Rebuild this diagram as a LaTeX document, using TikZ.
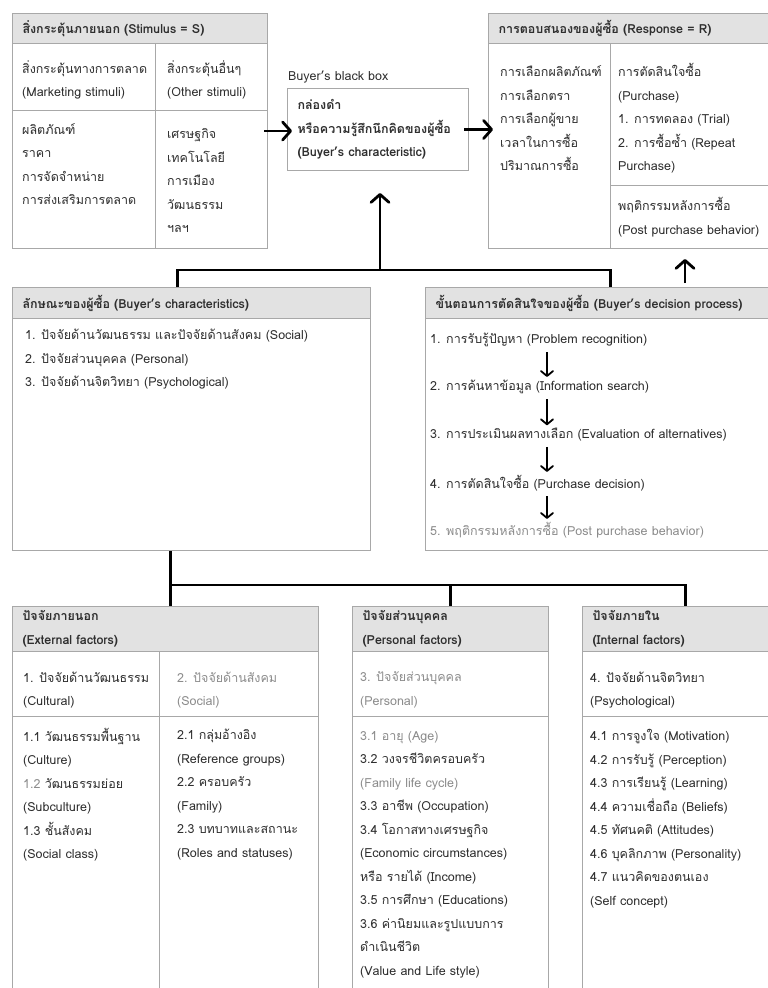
\documentclass[tikz,border=0pt]{standalone}
\usepackage{fontspec}
\setmainfont{Loma}[Script=Thai]
\usetikzlibrary{arrows.meta,positioning}
\definecolor{rule}{HTML}{A8A8A8}
\definecolor{shade}{HTML}{E2E2E2}
\definecolor{ink}{HTML}{2E2E2E}
\definecolor{faint}{HTML}{8C8C8C}
\newcommand{\bodyfont}{\fontsize{12.5}{23.5}\selectfont}

\begin{document}
\begin{tikzpicture}[x=1pt,y=-1pt,
  frame/.style={draw=rule,line width=1pt,fill=white,anchor=north west,inner sep=0pt},
  headrow/.style={frame,fill=shade,align=left,inner xsep=10pt,font=\bodyfont\bfseries,text=ink},
  txt/.style={anchor=west,inner sep=0pt,align=left,font=\bodyfont,text=ink},
  link/.style={line width=2.8pt},
  flow/.style={line width=2.8pt,-{Straight Barb[length=8pt,width=18pt,line width=2.8pt,round]}},
  stepflow/.style={line width=1.8pt,-{Straight Barb[length=5pt,width=12pt,line width=1.8pt,round]},shorten <=5pt,shorten >=3pt},
  grid/.style={draw=rule,line width=1pt}]
\useasboundingbox (0,0) rectangle (768,988);
\clip (0,0) rectangle (768,988);

% stimulus
\node[frame,minimum width=255pt,minimum height=235pt] (stim) at (12,13) {};
\node[headrow,minimum height=30pt,text width=235pt] (stimhd) at (stim.north west) {สิ่งกระตุ้นภายนอก (Stimulus = S)};
\draw[grid] (155,43) -- (155,248);
\draw[grid] (12,110) -- (267,110);
\node[txt] (mkt) at (22,80) {สิ่งกระตุ้นทางการตลาด\\(Marketing stimuli)};
\node[txt] (oth) at (167,80) {สิ่งกระตุ้นอื่นๆ\\(Other stimuli)};
\node[txt] (mktlist) at (22,164) {ผลิตภัณฑ์\\ราคา\\การจัดจำหน่าย\\การส่งเสริมการตลาด};
\node[txt] (othlist) at (167,181) {เศรษฐกิจ\\เทคโนโลยี\\การเมือง\\วัฒนธรรม\\ฯลฯ};

% black box
\node[txt] (bblabel) at (288,77) {Buyer's black box};
\node[frame,minimum width=181pt,minimum height=82pt,text width=161pt,inner xsep=10pt,align=left,font=\bodyfont\bfseries,text=ink] (bb) at (287,88) {กล่องดำ\\หรือความรู้สึกนึกคิดของผู้ซื้อ\\(Buyer's characteristic)};

% response
\node[frame,minimum width=310pt,minimum height=235pt] (resp) at (488,13) {};
\node[headrow,minimum height=30pt,text width=290pt] (resphd) at (resp.north west) {การตอบสนองของผู้ซื้อ (Response = R)};
\draw[grid] (610,43) -- (610,248);
\draw[grid] (610,185) -- (798,185);
\node[txt] (choice) at (500,118.5) {การเลือกผลิตภัณฑ์\\การเลือกตรา\\การเลือกผู้ขาย\\เวลาในการซื้อ\\ปริมาณการซื้อ};
\node[txt] (buy) at (618,118.5) {การตัดสินใจซื้อ\\(Purchase)\\1. การทดลอง (Trial)\\2. การซื้อซ้ำ (Repeat\\Purchase)};
\node[txt] (post) at (618,217) {พฤติกรรมหลังการซื้อ\\(Post purchase behavior)};

\draw[flow,shorten <=-4pt,shorten >=-5pt] (stim.east) -- (bb.west |- stim.east);
\draw[flow,shorten <=-5pt,shorten >=-5pt] (bb.east) -- (resp.west |- bb.east);

% buyer characteristics
\node[frame,minimum width=358pt,minimum height=263pt] (bc) at (12,287) {};
\node[headrow,minimum height=31pt,text width=338pt] (bchd) at (bc.north west) {ลักษณะของผู้ซื้อ (Buyer's characteristics)};
\node[txt] (bclist) at (25,359.5) {1. ปัจจัยด้านวัฒนธรรม และปัจจัยด้านสังคม (Social)\\2. ปัจจัยส่วนบุคคล (Personal)\\3. ปัจจัยด้านจิตวิทยา (Psychological)};

% decision process
\node[frame,minimum width=370pt,minimum height=263pt] (dp) at (425,287) {};
\node[headrow,minimum height=31pt,text width=350pt] (dphd) at (dp.north west) {ขั้นตอนการตัดสินใจของผู้ซื้อ (Buyer's decision process)};
\node[txt] (s1) at (430,340) {1. การรับรู้ปัญหา (Problem recognition)};
\node[txt] (s2) at (430,387) {2. การค้นหาข้อมูล (Information search)};
\node[txt] (s3) at (430,435) {3. การประเมินผลทางเลือก (Evaluation of alternatives)};
\node[txt] (s4) at (430,483) {4. การตัดสินใจซื้อ (Purchase decision)};
\node[txt,text=faint] (s5) at (430,530) {5. พฤติกรรมหลังการซื้อ (Post purchase behavior)};
\foreach \a/\b in {s1/s2,s2/s3,s3/s4,s4/s5}
  \draw[stepflow] ([xshift=117pt]\a.south west) -- ([xshift=117pt]\b.north west);

% links to the black box and the response
\coordinate (top) at (380,270);
\draw[link] ([xshift=-14pt]bc.north) |- (top) -| (dp.north);
\draw[flow,shorten >=22pt] (top) -- (top |- bb.south);
\coordinate (rbase) at (685,283);
\draw[flow,shorten >=10pt] (rbase) -- (rbase |- resp.south);

% external factors
\node[frame,minimum width=306pt,minimum height=400pt] (ext) at (12,606) {};
\node[headrow,minimum height=45pt,text width=286pt] (exthd) at (ext.north west) {ปัจจัยภายนอก\\(External factors)};
\draw[grid] (12,716) -- (318,716);
\draw[grid] (159,651) -- (159,988);
\node[txt] (cult) at (23,690) {1. ปัจจัยด้านวัฒนธรรม\\(Cultural)};
\node[txt,text=faint] (soc) at (177,690) {2. ปัจจัยด้านสังคม\\(Social)};
\node[txt] (cultlist) at (23,794.5) {1.1 วัฒนธรรมพื้นฐาน\\(Culture)\\{\color{faint}1.2} วัฒนธรรมย่อย\\(Subculture)\\1.3 ชั้นสังคม\\(Social class)};
\node[txt] (soclist) at (177,794.5) {2.1 กลุ่มอ้างอิง\\(Reference groups)\\2.2 ครอบครัว\\(Family)\\2.3 บทบาทและสถานะ\\(Roles and statuses)};

% personal factors
\node[frame,minimum width=196pt,minimum height=400pt] (pers) at (352,606) {};
\node[headrow,minimum height=45pt,text width=176pt] (pershd) at (pers.north west) {ปัจจัยส่วนบุคคล\\(Personal factors)};
\draw[grid] (352,716) -- (548,716);
\node[txt,text=faint] (persrow) at (360,690) {3. ปัจจัยส่วนบุคคล\\(Personal)};
\node[txt] (perslist) at (360,854.5) {{\color{faint}3.1 อายุ (Age)}\\3.2 วงจรชีวิตครอบครัว\\{\color{faint}(Family life cycle)}\\3.3 อาชีพ (Occupation)\\3.4 โอกาสทางเศรษฐกิจ\\(Economic circumstances)\\หรือ รายได้ (Income)\\3.5 การศึกษา (Educations)\\3.6 ค่านิยมและรูปแบบการ\\ดำเนินชีวิต\\(Value and Life style)};

% internal factors
\node[frame,minimum width=206pt,minimum height=400pt] (int) at (582,606) {};
\node[headrow,minimum height=45pt,text width=186pt] (inthd) at (int.north west) {ปัจจัยภายใน\\(Internal factors)};
\draw[grid] (582,716) -- (788,716);
\node[txt] (psy) at (590,690) {4. ปัจจัยด้านจิตวิทยา\\(Psychological)};
\node[txt] (psylist) at (590,818.5) {4.1 การจูงใจ (Motivation)\\4.2 การรับรู้ (Perception)\\4.3 การเรียนรู้ (Learning)\\4.4 ความเชื่อถือ (Beliefs)\\4.5 ทัศนคติ (Attitudes)\\4.6 บุคลิกภาพ (Personality)\\4.7 แนวคิดของตนเอง\\(Self concept)};

% links to the factor tables
\coordinate (fork) at (170,585);
\draw[link] ([xshift=-21pt]bc.south) -- ([xshift=5pt]ext.north);
\draw[link] (fork) -| (int.north);
\draw[link] (pers.north |- fork) -- (pers.north);
\end{tikzpicture}
\end{document}
